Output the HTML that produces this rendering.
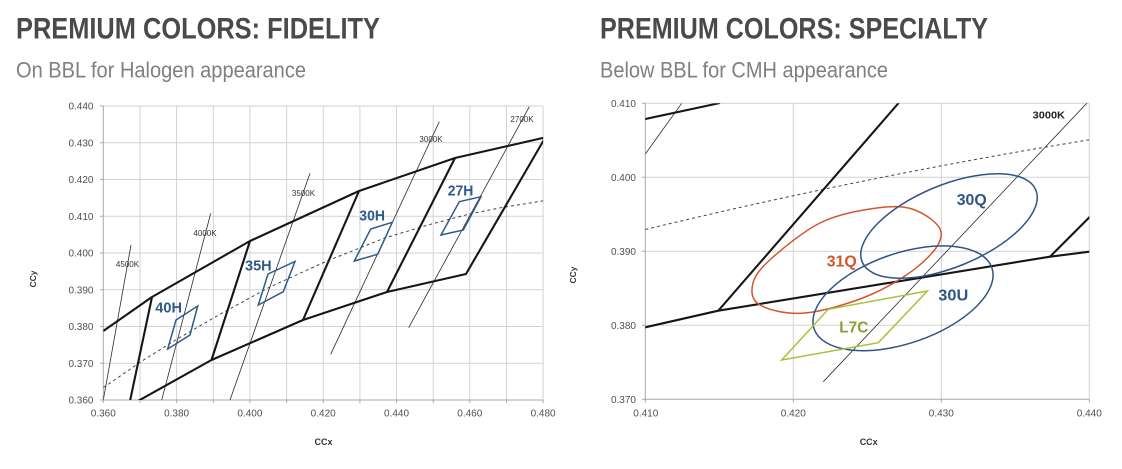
<!DOCTYPE html>
<html>
<head>
<meta charset="utf-8">
<style>
  html,body{margin:0;padding:0;background:#fff;}
  svg{display:block;}
  text{font-family:"Liberation Sans",Arial,sans-serif;}
</style>
</head>
<body>
<svg width="1122" height="469" viewBox="0 0 1122 469" xmlns="http://www.w3.org/2000/svg">
  <defs>
    <clipPath id="cl"><rect x="103.3" y="106" width="439.8" height="294"/></clipPath>
    <clipPath id="cr"><rect x="645.3" y="103.3" width="444" height="296"/></clipPath>
  </defs>
  <rect width="1122" height="469" fill="#fff"/>

  <!-- Titles -->
  <text x="16" y="38.3" font-size="30" font-weight="bold" fill="#4a4a4a" textLength="364" lengthAdjust="spacingAndGlyphs">PREMIUM COLORS: FIDELITY</text>
  <text x="16" y="77.3" font-size="22" fill="#808080" textLength="290" lengthAdjust="spacingAndGlyphs">On BBL for Halogen appearance</text>
  <text x="600" y="38.3" font-size="30" font-weight="bold" fill="#4a4a4a" textLength="388" lengthAdjust="spacingAndGlyphs">PREMIUM COLORS: SPECIALTY</text>
  <text x="600" y="77.3" font-size="22" fill="#808080" textLength="288" lengthAdjust="spacingAndGlyphs">Below BBL for CMH appearance</text>

  <!-- ================= LEFT CHART ================= -->
  <g stroke="#d2d2d2" stroke-width="1" fill="none">
    <line x1="140" y1="106" x2="140" y2="400"/>
    <line x1="176.6" y1="106" x2="176.6" y2="400"/>
    <line x1="213.3" y1="106" x2="213.3" y2="400"/>
    <line x1="249.9" y1="106" x2="249.9" y2="400"/>
    <line x1="286.6" y1="106" x2="286.6" y2="400"/>
    <line x1="323.2" y1="106" x2="323.2" y2="400"/>
    <line x1="359.9" y1="106" x2="359.9" y2="400"/>
    <line x1="396.5" y1="106" x2="396.5" y2="400"/>
    <line x1="433.2" y1="106" x2="433.2" y2="400"/>
    <line x1="469.8" y1="106" x2="469.8" y2="400"/>
    <line x1="506.5" y1="106" x2="506.5" y2="400"/>
    <line x1="543.1" y1="106" x2="543.1" y2="400"/>
    <line x1="103.3" y1="106" x2="543.1" y2="106"/>
    <line x1="103.3" y1="142.75" x2="543.1" y2="142.75"/>
    <line x1="103.3" y1="179.5" x2="543.1" y2="179.5"/>
    <line x1="103.3" y1="216.25" x2="543.1" y2="216.25"/>
    <line x1="103.3" y1="253" x2="543.1" y2="253"/>
    <line x1="103.3" y1="289.75" x2="543.1" y2="289.75"/>
    <line x1="103.3" y1="326.5" x2="543.1" y2="326.5"/>
    <line x1="103.3" y1="363.25" x2="543.1" y2="363.25"/>
  </g>
  <!-- axes + ticks -->
  <g stroke="#a8a8a8" stroke-width="1">
    <line x1="103.3" y1="106" x2="103.3" y2="400"/>
    <line x1="103.3" y1="400" x2="543.1" y2="400"/>
    <line x1="100" y1="106" x2="103.3" y2="106"/>
    <line x1="100" y1="142.75" x2="103.3" y2="142.75"/>
    <line x1="100" y1="179.5" x2="103.3" y2="179.5"/>
    <line x1="100" y1="216.25" x2="103.3" y2="216.25"/>
    <line x1="100" y1="253" x2="103.3" y2="253"/>
    <line x1="100" y1="289.75" x2="103.3" y2="289.75"/>
    <line x1="100" y1="326.5" x2="103.3" y2="326.5"/>
    <line x1="100" y1="363.25" x2="103.3" y2="363.25"/>
    <line x1="100" y1="400" x2="103.3" y2="400"/>
    <line x1="103.3" y1="400" x2="103.3" y2="403"/>
    <line x1="140" y1="400" x2="140" y2="403"/>
    <line x1="176.6" y1="400" x2="176.6" y2="403"/>
    <line x1="213.3" y1="400" x2="213.3" y2="403"/>
    <line x1="249.9" y1="400" x2="249.9" y2="403"/>
    <line x1="286.6" y1="400" x2="286.6" y2="403"/>
    <line x1="323.2" y1="400" x2="323.2" y2="403"/>
    <line x1="359.9" y1="400" x2="359.9" y2="403"/>
    <line x1="396.5" y1="400" x2="396.5" y2="403"/>
    <line x1="433.2" y1="400" x2="433.2" y2="403"/>
    <line x1="469.8" y1="400" x2="469.8" y2="403"/>
    <line x1="506.5" y1="400" x2="506.5" y2="403"/>
    <line x1="543.1" y1="400" x2="543.1" y2="403"/>
  </g>
  <!-- tick labels -->
  <g font-size="10" fill="#505050" text-anchor="end">
    <text x="93.5" y="109.5">0.440</text>
    <text x="93.5" y="146.25">0.430</text>
    <text x="93.5" y="183">0.420</text>
    <text x="93.5" y="219.75">0.410</text>
    <text x="93.5" y="256.5">0.400</text>
    <text x="93.5" y="293.25">0.390</text>
    <text x="93.5" y="330">0.380</text>
    <text x="93.5" y="366.75">0.370</text>
    <text x="93.5" y="403.5">0.360</text>
  </g>
  <g font-size="10" fill="#505050" text-anchor="middle">
    <text x="103.3" y="416.5">0.360</text>
    <text x="176.6" y="416.5">0.380</text>
    <text x="249.9" y="416.5">0.400</text>
    <text x="323.2" y="416.5">0.420</text>
    <text x="396.5" y="416.5">0.440</text>
    <text x="469.8" y="416.5">0.460</text>
    <text x="543.1" y="416.5">0.480</text>
  </g>
  <text x="323.5" y="445" font-size="9" font-weight="bold" fill="#333" text-anchor="middle">CCx</text>
  <text transform="translate(36,279) rotate(-90)" x="0" y="0" font-size="8.5" font-weight="bold" fill="#333" text-anchor="middle">CCy</text>

  <g clip-path="url(#cl)">
    <!-- thin isotherms -->
    <g stroke="#2a2a2a" stroke-width="0.8" fill="none">
      <line x1="103.3" y1="400" x2="131" y2="245"/>
      <line x1="161.7" y1="400" x2="210.7" y2="213.3"/>
      <line x1="230" y1="400" x2="310" y2="173.3"/>
      <line x1="330.7" y1="354.3" x2="439.3" y2="121.7"/>
      <line x1="408.7" y1="327.7" x2="529.3" y2="106.7"/>
    </g>
    <!-- BBL dashed -->
    <polyline points="103.3,387.5 106.5,385.5 142,361 178.4,338.3 224,312 269.5,287.2 327,261 385,237.9 428,225 469.4,214 502,207.5 532,202.7 543.1,200.9" fill="none" stroke="#444" stroke-width="1" stroke-dasharray="3,3"/>
    <!-- thick quadrangle outlines -->
    <g stroke="#161616" stroke-width="2.1" fill="none" stroke-linejoin="round">
      <polyline points="103.3,331 152,297 250,241 359,191 455,158 545,137.5"/>
      <polyline points="138,401 211.5,360 303,320 387,292 466,274 545,138"/>
      <line x1="152" y1="297" x2="130" y2="401"/>
      <line x1="250" y1="241" x2="211.5" y2="360"/>
      <line x1="359" y1="191" x2="303" y2="320"/>
      <line x1="455" y1="158" x2="387" y2="292"/>
    </g>
  </g>
  <!-- isotherm labels -->
  <g font-size="8" fill="#333" text-anchor="middle">
    <text x="127.5" y="267">4500K</text>
    <text x="205" y="236">4000K</text>
    <text x="303.5" y="196">3500K</text>
    <text x="431" y="142">3000K</text>
    <text x="522" y="122">2700K</text>
  </g>
  <!-- blue diamonds -->
  <g stroke="#2e5a8a" stroke-width="1.5" fill="none" stroke-linejoin="miter">
    <polygon points="176,320 197.7,306 190,335 167.7,349"/>
    <polygon points="268,274 295,261.5 283.3,291.7 258.3,305"/>
    <polygon points="370.7,229 392.3,222.3 377.7,254.3 354.3,261"/>
    <polygon points="459.3,201.7 481,196.7 463.3,230 441,235"/>
  </g>
  <g font-size="15" font-weight="bold" fill="#2e5a8a">
    <text x="155.3" y="312.7" textLength="26.7" lengthAdjust="spacingAndGlyphs">40H</text>
    <text x="245" y="270.7" textLength="26.7" lengthAdjust="spacingAndGlyphs">35H</text>
    <text x="359.3" y="220.7" textLength="25.7" lengthAdjust="spacingAndGlyphs">30H</text>
    <text x="447.7" y="195.7" textLength="25.7" lengthAdjust="spacingAndGlyphs">27H</text>
  </g>

  <!-- ================= RIGHT CHART ================= -->
  <g stroke="#d2d2d2" stroke-width="1" fill="none">
    <line x1="793.3" y1="103.3" x2="793.3" y2="399.3"/>
    <line x1="941.3" y1="103.3" x2="941.3" y2="399.3"/>
    <line x1="1089.3" y1="103.3" x2="1089.3" y2="399.3"/>
    <line x1="645.3" y1="103.3" x2="1089.3" y2="103.3"/>
    <line x1="645.3" y1="177.3" x2="1089.3" y2="177.3"/>
    <line x1="645.3" y1="251.3" x2="1089.3" y2="251.3"/>
    <line x1="645.3" y1="325.3" x2="1089.3" y2="325.3"/>
  </g>
  <g stroke="#a8a8a8" stroke-width="1">
    <line x1="645.3" y1="103.3" x2="645.3" y2="399.3"/>
    <line x1="645.3" y1="399.3" x2="1089.3" y2="399.3"/>
    <line x1="642" y1="103.3" x2="645.3" y2="103.3"/>
    <line x1="642" y1="177.3" x2="645.3" y2="177.3"/>
    <line x1="642" y1="251.3" x2="645.3" y2="251.3"/>
    <line x1="642" y1="325.3" x2="645.3" y2="325.3"/>
    <line x1="642" y1="399.3" x2="645.3" y2="399.3"/>
    <line x1="645.3" y1="399.3" x2="645.3" y2="402.5"/>
    <line x1="793.3" y1="399.3" x2="793.3" y2="402.5"/>
    <line x1="941.3" y1="399.3" x2="941.3" y2="402.5"/>
    <line x1="1089.3" y1="399.3" x2="1089.3" y2="402.5"/>
  </g>
  <g font-size="10" fill="#505050" text-anchor="end">
    <text x="636" y="106.8">0.410</text>
    <text x="636" y="180.8">0.400</text>
    <text x="636" y="254.8">0.390</text>
    <text x="636" y="328.8">0.380</text>
    <text x="636" y="402.8">0.370</text>
  </g>
  <g font-size="10" fill="#505050" text-anchor="middle">
    <text x="645.8" y="416.5">0.410</text>
    <text x="793.3" y="416.5">0.420</text>
    <text x="941.3" y="416.5">0.430</text>
    <text x="1089.3" y="416.5">0.440</text>
  </g>
  <text x="868.7" y="445" font-size="9" font-weight="bold" fill="#333" text-anchor="middle">CCx</text>
  <text transform="translate(576,275) rotate(-90)" x="0" y="0" font-size="8.5" font-weight="bold" fill="#333" text-anchor="middle">CCy</text>

  <g clip-path="url(#cr)">
    <!-- thin isotherms -->
    <g stroke="#2a2a2a" stroke-width="0.8" fill="none">
      <line x1="645.3" y1="154" x2="681.7" y2="103.3"/>
      <line x1="1088" y1="102" x2="823.3" y2="381.7"/>
    </g>
    <!-- BBL dashed -->
    <path d="M645.3,229.5 Q867,176 1089.3,139.8" fill="none" stroke="#444" stroke-width="1" stroke-dasharray="3,3"/>
    <!-- thick lines -->
    <g stroke="#161616" stroke-width="2.1" fill="none" stroke-linejoin="round">
      <line x1="644" y1="119.3" x2="720" y2="103"/>
      <polyline points="644,327.6 718.3,310.7 1050,256.7 1091,251.5"/>
      <line x1="718.3" y1="310.7" x2="900" y2="101.4"/>
      <line x1="1050" y1="256.7" x2="1091" y2="215.6"/>
    </g>
    <!-- 31Q orange -->
    <path d="M870,209 C885.3,206.7 900.2,205.2 912,209 C923.8,212.8 939.3,223 941,232 C942.7,241 933.8,252.5 922,263 C910.2,273.5 889.5,286.7 870,295 C850.5,303.3 823.3,311.3 805,313 C786.7,314.7 768.7,310 760,305 C751.3,300 751,290.8 753,283 C755,275.2 760.8,268 772,258 C783.2,248 803.7,231.2 820,223 C836.3,214.8 854.7,211.3 870,209 Z" fill="none" stroke="#d2562b" stroke-width="1.5"/>
    <!-- 30Q / 30U blue -->
    <ellipse cx="949" cy="226" rx="94" ry="41" transform="rotate(-22.5 949 226)" fill="none" stroke="#2e5584" stroke-width="1.5"/>
    <ellipse cx="903" cy="298.3" rx="94" ry="45" transform="rotate(-19 903 298.3)" fill="none" stroke="#2e5584" stroke-width="1.5"/>
    <!-- L7C green -->
    <polygon points="781.7,360 828.3,309.3 927.3,291 878.3,342.7" fill="none" stroke="#a9c13a" stroke-width="1.5" stroke-linejoin="miter"/>
  </g>
  <text x="1032.7" y="118.3" font-size="10.5" font-weight="bold" fill="#222" textLength="32.3" lengthAdjust="spacingAndGlyphs">3000K</text>
  <g font-size="16" font-weight="bold">
    <text x="956.7" y="205" fill="#2e5584" textLength="30" lengthAdjust="spacingAndGlyphs">30Q</text>
    <text x="826.7" y="266.7" fill="#d2562b" textLength="30" lengthAdjust="spacingAndGlyphs">31Q</text>
    <text x="938.3" y="300.7" fill="#2e5584" textLength="30" lengthAdjust="spacingAndGlyphs">30U</text>
    <text x="839.3" y="332.7" fill="#8c9e2e" textLength="29" lengthAdjust="spacingAndGlyphs">L7C</text>
  </g>
</svg>
</body>
</html>
